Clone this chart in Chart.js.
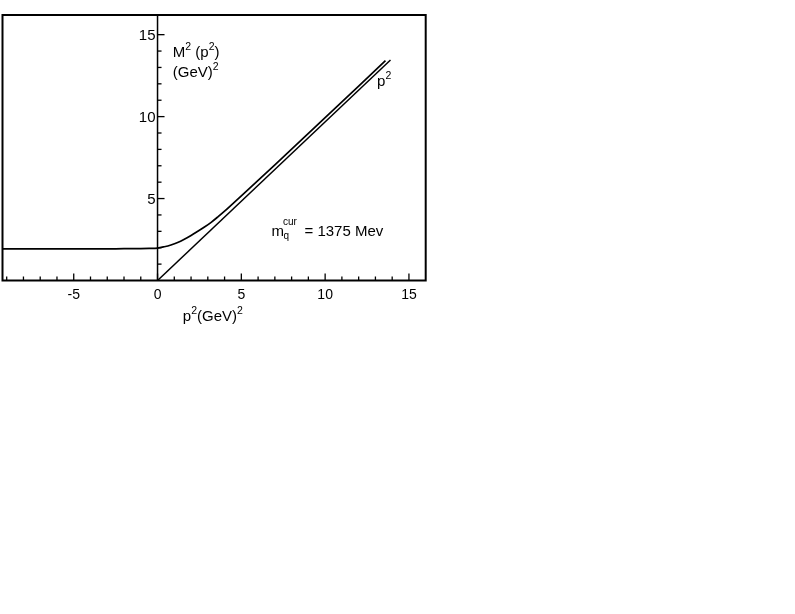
<!DOCTYPE html>
<html><head><meta charset="utf-8">
<script src="https://cdn.jsdelivr.net/npm/chart.js@4/dist/chart.umd.min.js"></script>
<style>html,body{margin:0;padding:0;background:#fff}#wrap{position:relative;width:795px;height:614px}canvas{display:block}</style>
</head><body><div id="wrap"><canvas id="c" width="795" height="614"></canvas></div>
<script>
// ---- data ----
const curveP2 = [-9.25, -7, -5, -3, -2, -1, -0.5, 0, 0.4, 0.8, 1.2, 1.6, 2.0, 2.4, 2.8, 3.2, 3.6, 4.0, 5, 6, 8, 10, 12, 13.6];
const curveM2 = [1.93, 1.93, 1.93, 1.93, 1.94, 1.95, 1.96, 1.98, 2.06, 2.17, 2.32, 2.52, 2.75, 3.00, 3.26, 3.55, 3.88, 4.23, 5.17, 6.11, 8.01, 9.94, 11.86, 13.41];
const lineP2 = [0, 13.9];
const lineM2 = [0, 13.45];
const xTickValues = [-9,-8,-7,-6,-5,-4,-3,-2,-1,0,1,2,3,4,5,6,7,8,9,10,11,12,13,14,15];
const xTickLabels = {"-5":"-5","0":"0","5":"5","10":"10","15":"15"};
const yTickValues = [1,2,3,4,5,6,7,8,9,10,11,12,13,14,15];
const yTickLabels = {"5":"5","10":"10","15":"15"};
const FONT = "'Liberation Sans', Arial, sans-serif";

const toPts = (xs, ys) => xs.map((x, i) => ({x: x, y: ys[i]}));

// draw a run of [text, kind] segments: kind '' normal, 'sup' superscript, 'sub' subscript
function drawRich(ctx, segs, x, y, size) {
  let cx = x;
  segs.forEach(([t, k]) => {
    let s = size, dy = 0;
    if (k === 'sup') { s = size * 0.7; dy = -size * 0.45; }
    if (k === 'sub') { s = size * 0.7; dy = size * 0.22; }
    ctx.font = s + 'px ' + FONT;
    ctx.fillText(t, cx, y + dy);
    cx += ctx.measureText(t).width;
  });
  return cx;
}

const axesPlugin = {
  id: 'axesPlugin',
  afterDraw(chart) {
    const ctx = chart.ctx, a = chart.chartArea;
    const xs = chart.scales.x, ys = chart.scales.y;
    ctx.save();
    ctx.strokeStyle = '#000';
    ctx.fillStyle = '#000';
    ctx.lineWidth = 2;
    ctx.strokeRect(a.left, a.top, a.right - a.left, a.bottom - a.top);
    const x0 = xs.getPixelForValue(0);
    ctx.lineWidth = 1.5;
    ctx.beginPath(); ctx.moveTo(x0, a.top); ctx.lineTo(x0, a.bottom); ctx.stroke();
    ctx.lineWidth = 1.3;
    yTickValues.forEach(v => {
      const y = ys.getPixelForValue(v);
      const len = v % 5 === 0 ? 7 : 4;
      ctx.beginPath(); ctx.moveTo(x0, y); ctx.lineTo(x0 + len, y); ctx.stroke();
    });
    xTickValues.forEach(v => {
      const x = xs.getPixelForValue(v);
      const len = v % 5 === 0 ? 7 : 4;
      ctx.beginPath(); ctx.moveTo(x, a.bottom); ctx.lineTo(x, a.bottom - len); ctx.stroke();
    });
    ctx.font = '15px ' + FONT;
    ctx.textAlign = 'right'; ctx.textBaseline = 'middle';
    yTickValues.forEach(v => {
      if (yTickLabels[String(v)]) ctx.fillText(yTickLabels[String(v)], x0 - 2, ys.getPixelForValue(v) + 1);
    });
    ctx.textAlign = 'left'; ctx.textBaseline = 'alphabetic';
    const px = v => xs.getPixelForValue(v), py = v => ys.getPixelForValue(v);
    drawRich(ctx, [['M',''],['2','sup'],[' (p',''],['2','sup'],[')','']], px(0.91), py(13.64), 15);
    drawRich(ctx, [['(GeV)',''],['2','sup']], px(0.91), py(12.42), 15);
    drawRich(ctx, [['p',''],['2','sup']], px(13.1), py(11.86), 15);
    // m_q^cur = 1375 Mev
    const mx = px(6.8), my = py(2.72);
    ctx.font = '15px ' + FONT;
    ctx.fillText('m', mx, my);
    ctx.font = '10px ' + FONT;
    ctx.fillText('q', mx + 12, my + 3);
    ctx.fillText('cur', mx + 11.5, my - 11);
    ctx.font = '15px ' + FONT;
    ctx.fillText('= 1375 Mev', mx + 33, my);
    // x axis title
    ctx.textAlign = 'left';
    const tw = (() => { ctx.font = '15px ' + FONT; const a1 = ctx.measureText('p(GeV)').width; ctx.font = '10.5px ' + FONT; return a1 + 2 * ctx.measureText('2').width; })();
    drawRich(ctx, [['p',''],['2','sup'],['(GeV)',''],['2','sup']], px(3.3) - tw / 2, a.bottom + 40, 15);
    ctx.restore();
  }
};

new Chart(document.getElementById('c'), {
  type: 'scatter',
  data: {
    datasets: [
      { label: 'M2', data: toPts(curveP2, curveM2), showLine: true, pointRadius: 0,
        borderColor: '#000', borderWidth: 1.7, fill: false, tension: 0.35 },
      { label: 'p2', data: toPts(lineP2, lineM2), showLine: true, pointRadius: 0,
        borderColor: '#000', borderWidth: 1.5, fill: false }
    ]
  },
  options: {
    responsive: false,
    animation: false,
    devicePixelRatio: 1,
    layout: { padding: { left: 2.5, right: 369.3, top: 15, bottom: 614 - 280.5 - 45.5 } },
    plugins: { legend: { display: false }, tooltip: { enabled: false } },
    scales: {
      x: {
        type: 'linear', position: 'bottom', min: -9.25, max: 16,
        afterBuildTicks: s => { s.ticks = xTickValues.map(v => ({value: v})); },
        afterFit: s => { s.height = 45.5; },
        grid: { display: false, drawTicks: false },
        border: { display: false },
        ticks: { autoSkip: false, maxRotation: 0, padding: 6, color: '#000',
                 font: { family: FONT, size: 14 },
                 callback: v => xTickLabels[String(v)] || '' },
        title: { display: false }
      },
      y: {
        type: 'linear', display: false, min: 0, max: 16.2
      }
    }
  },
  plugins: [axesPlugin]
});
</script>
</body></html>
